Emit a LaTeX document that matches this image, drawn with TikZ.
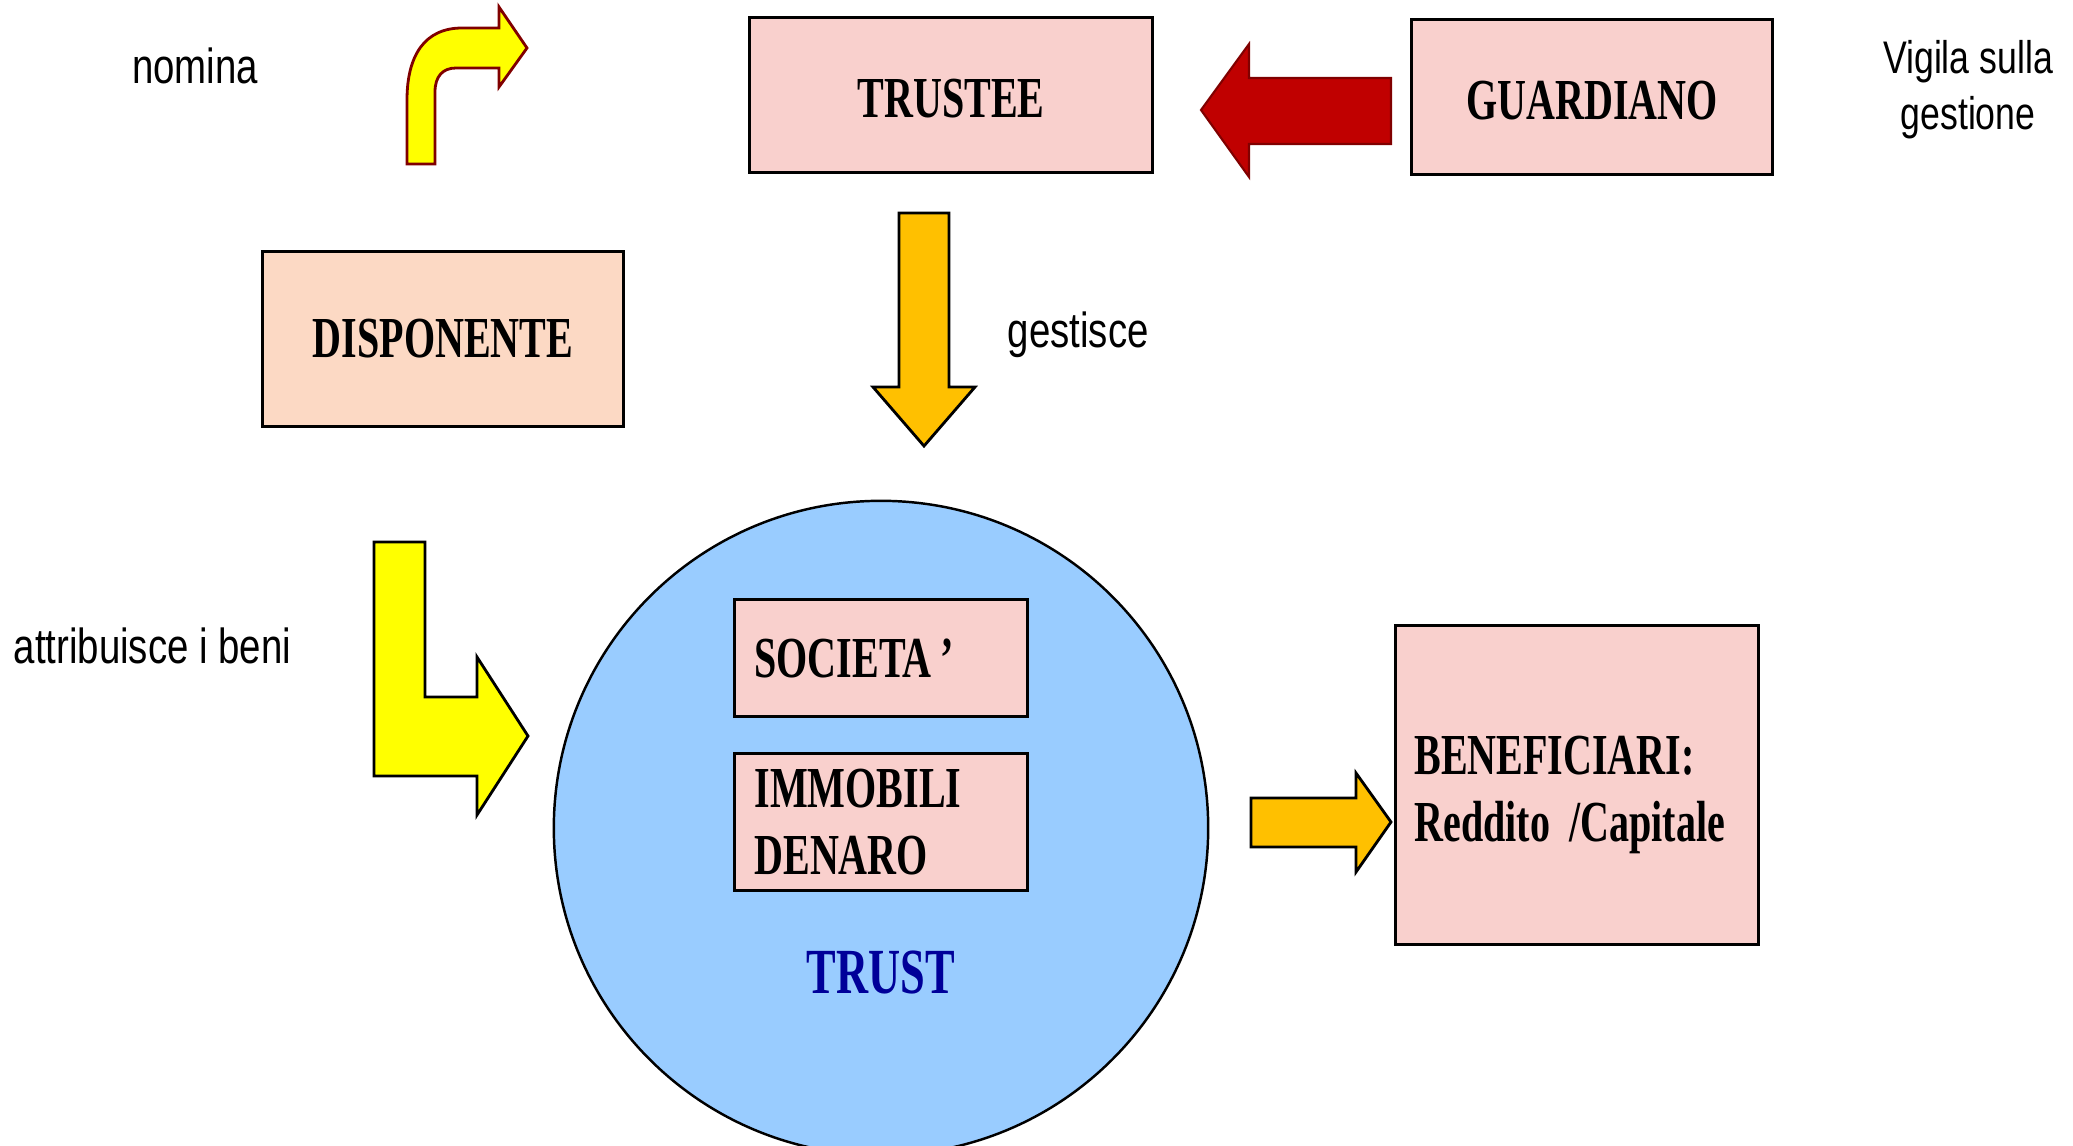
\documentclass[tikz,border=0pt]{standalone}
\usepackage{fontspec}
\usepackage{xcolor}
\newfontfamily\boxfont{Liberation Serif}[FakeStretch=0.69]
\newfontfamily\notefont{Liberation Sans}[FakeStretch=0.78]
\definecolor{boxpink}{RGB}{249,208,205}
\definecolor{boxpeach}{RGB}{252,217,196}
\definecolor{trustblue}{RGB}{153,204,255}
\definecolor{trustnavy}{RGB}{0,0,153}
\definecolor{arrowred}{RGB}{192,0,0}
\definecolor{arrowdarkred}{RGB}{128,0,0}
\definecolor{arroworange}{RGB}{255,192,0}
\definecolor{arrowyellow}{RGB}{255,255,0}

\begin{document}
\begin{tikzpicture}[x=0.01cm, y=-0.01cm,
    box/.style={draw=black, line width=0.9pt, fill=boxpink, inner sep=0pt,
        font=\boxfont\bfseries\fontsize{16.5}{19}\selectfont},
    note/.style={font=\notefont\fontsize{14}{16}\selectfont, inner sep=0pt}]
    \useasboundingbox (0,0) rectangle (2073,1145);

    % top row
    \node[box, minimum width=4.03cm, minimum height=1.55cm, text height=0.46cm] (trustee) at (951,95) {TRUSTEE};
    \node[box, minimum width=3.61cm, minimum height=1.55cm, text height=0.45cm] (guardiano) at (1592,97) {GUARDIANO};
    \node[box, fill=boxpeach, minimum width=3.61cm, minimum height=1.75cm] (disponente) at (443,339) {DISPONENTE};

    % the trust and its assets
    \node[circle, draw=black, line width=0.7pt, fill=trustblue, minimum size=6.54cm, inner sep=0pt] (trust) at (881,828) {};
    \node[box, minimum width=2.93cm, minimum height=1.17cm, text width=2.53cm, align=left] (societa) at (881,658) {SOCIETA\kern2.5pt’};
    \node[box, minimum width=2.93cm, minimum height=1.37cm, text width=2.53cm, align=left] (immobili) at (881,822) {IMMOBILI\\DENARO};
    \node[font=\boxfont\bfseries\fontsize{18.3}{20}\selectfont, text=trustnavy, anchor=base, inner sep=0pt] (trustname) at (881,993) {TRUST};

    \node[box, minimum width=3.63cm, minimum height=3.19cm] (beneficiari) at (1577,785) {};
    \node[font=\boxfont\bfseries\fontsize{16.5}{19}\selectfont, text width=3.25cm, align=left, inner sep=0pt] (beneficiaritext) at (1577,795) {BENEFICIARI:\\Reddito /Capitale};

    % labels
    \node[note, anchor=base] (nomina) at (195,83) {nomina};
    \node[note, anchor=base west] (attribuisce) at (13,663) {attribuisce i beni};
    \node[note, anchor=base west] (gestisce) at (1007,347) {gestisce};
    \node[note, font=\notefont\fontsize{13}{16}\selectfont, align=center] (vigila) at (1968,90) {Vigila sulla\\gestione};

    % block arrows
    \draw[fill=arrowyellow, draw=arrowdarkred, line width=0.8pt, line join=miter]
        (407,164) -- (407,100) .. controls (407,55) and (425,28) .. (462,28)
        -- (499,28) -- (499,7) -- (527,48) -- (499,87) -- (499,68) -- (456,68)
        .. controls (443,68) and (435,76) .. (435,92) -- (435,164) -- cycle;
    \draw[fill=arrowyellow, draw=black, line width=0.8pt]
        (374,542) -- (425,542) -- (425,697) -- (477,697) -- (477,657) -- (528,736)
        -- (477,815) -- (477,776) -- (374,776) -- cycle;
    \draw[fill=arrowred, draw=arrowdarkred, line width=0.6pt]
        (1391,78) -- (1249,78) -- (1249,44) -- (1201,110) -- (1249,177)
        -- (1249,144) -- (1391,144) -- cycle;
    \draw[fill=arroworange, draw=black, line width=0.8pt]
        (899,213) -- (949,213) -- (949,387) -- (975,387) -- (924,446)
        -- (873,387) -- (899,387) -- cycle;
    \draw[fill=arroworange, draw=black, line width=0.8pt]
        (1251,798) -- (1356,798) -- (1356,773) -- (1391,822) -- (1356,872)
        -- (1356,847) -- (1251,847) -- cycle;
\end{tikzpicture}
\end{document}
